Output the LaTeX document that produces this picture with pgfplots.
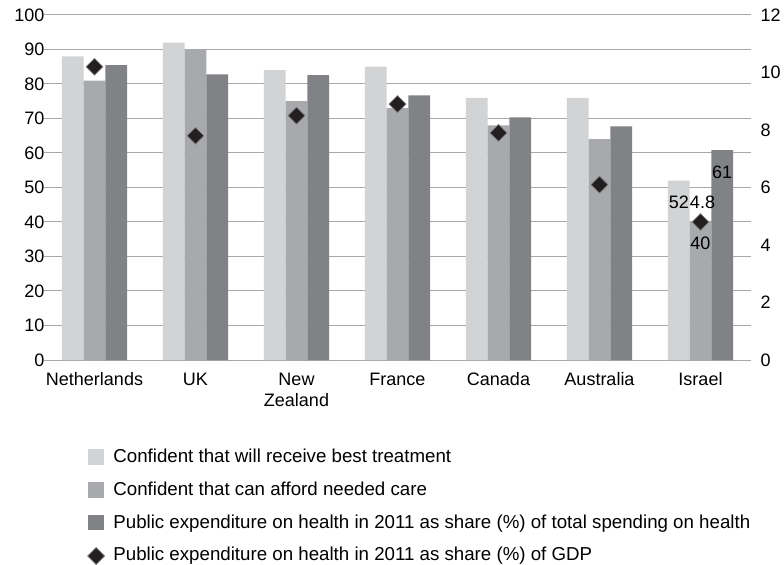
\documentclass[border=0pt]{standalone}
\usepackage{pgfplots}
\pgfplotsset{compat=1.18}
\usepackage{fontspec}
\setmainfont{Liberation Sans}
\definecolor{cA}{HTML}{D1D3D4}
\definecolor{cB}{HTML}{A7A9AC}
\definecolor{cC}{HTML}{808285}
\definecolor{cD}{HTML}{231F20}
\definecolor{gridc}{HTML}{A8A8A8}
\begin{document}
\begin{tikzpicture}
\pgfplotsset{every axis/.append style={width=707bp,height=345bp,scale only axis,
  xmin=-0.5,xmax=6.5, font=\fontsize{18bp}{20.5bp}\selectfont,
  /pgf/number format/assume math mode=true,
  tick style={draw=none}, axis line style={draw=none}}}
\begin{axis}[
  ymin=0,ymax=100, ytick={0,10,...,100},
  ymajorgrids, grid style={gridc, line width=1bp},
  ybar, bar width=0.215,
  xtick={0,...,6},
  xticklabels={\strut Netherlands,\strut UK,\strut New\\Zealand,\strut France,\strut Canada,\strut Australia,\strut Israel},
  xticklabel style={align=center, yshift=-3.5bp},
  yticklabel style={xshift=4bp},
  clip=false,
]
\coordinate (sw) at (rel axis cs:0,0);
\addplot[fill=cA, draw=none, bar shift=-0.215] coordinates {(0,88) (1,92) (2,84) (3,85) (4,76) (5,76) (6,52)};
\addplot[fill=cB, draw=none, bar shift=0] coordinates {(0,81) (1,90) (2,75) (3,73) (4,68) (5,64) (6,40)};
\addplot[fill=cC, draw=none, bar shift=0.215] coordinates {(0,85.5) (1,82.8) (2,82.6) (3,76.7) (4,70.3) (5,67.7) (6,60.8)};
\node[yshift=-21.4bp] at (axis cs:5.785,52) {52};
\node[yshift=-21bp] at (axis cs:6,40) {40};
\node[yshift=-21.8bp] at (axis cs:6.215,60.8) {61};
\end{axis}
\begin{axis}[
  ymin=0,ymax=12, ytick={0,2,...,12},
  axis y line*=right, axis x line=none,
  yticklabel style={xshift=6bp},
  clip=false,
  legend style={draw=none, fill=none, inner sep=0pt, at={(rel axis cs:0,0)}, anchor=north west,
    xshift=43.5bp, yshift=-88.3bp, row sep=16.8bp, font=\fontsize{18.7bp}{21bp}\selectfont,
    nodes={inner sep=1bp, text height=13.4bp, text depth=0bp}},
  legend cell align=left,
]
\addlegendimage{legend image code/.code={\fill[cA] (0bp,-7.9bp) rectangle (15bp,6.7bp); \path (24bp,0bp);}}
\addlegendentry{Confident that will receive best treatment}
\addlegendimage{legend image code/.code={\fill[cB] (0bp,-7.9bp) rectangle (15bp,6.7bp); \path (24bp,0bp);}}
\addlegendentry{Confident that can afford needed care}
\addlegendimage{legend image code/.code={\fill[cC] (0bp,-7.9bp) rectangle (15bp,6.7bp); \path (24bp,0bp);}}
\addlegendentry{Public expenditure on health in 2011 as share (\%) of total spending on health}
\addplot[only marks, mark=square*, mark size=6bp, mark options={rotate=45, fill=cD, draw=gray, line width=0.7bp},
  legend image code/.code={\draw[only marks, mark=square*, mark size=6bp, mark options={rotate=45, fill=cD, draw=gray, line width=0.7bp}] plot coordinates {(8bp,-2bp)}; \path (0bp,0bp) (24bp,0bp);}]
  coordinates {(0,10.2) (1,7.8) (2,8.5) (3,8.9) (4,7.9) (5,6.1) (6,4.8)};
\addlegendentry{Public expenditure on health in 2011 as share (\%) of GDP}
\node[yshift=20bp, xshift=2bp] at (axis cs:6,4.8) {4.8};
\end{axis}
\pgfresetboundingbox
\path ([shift={(-44bp,-205bp)}]sw) rectangle ([shift={(740bp,360bp)}]sw);
\end{tikzpicture}
\end{document}
